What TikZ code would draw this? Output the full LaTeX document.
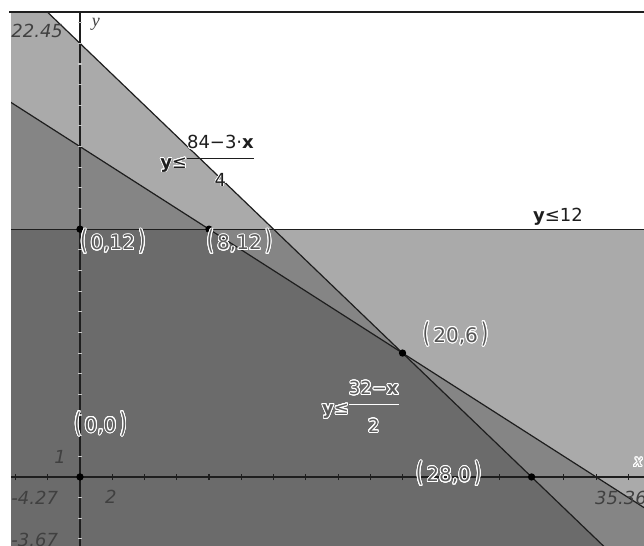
\documentclass[tikz,border=0pt]{standalone}
\usepackage{fontspec}
\setmainfont{DejaVu Sans}
\newfontfamily\axisname{Liberation Serif}
\usepackage{colortbl}
\usepackage{contour}
\contourlength{0.7pt}
\contournumber{24}
\usetikzlibrary{positioning}
\definecolor{oneshade}{HTML}{AAAAAA}
\definecolor{twoshade}{HTML}{858585}
\definecolor{threeshade}{HTML}{6B6B6B}
\definecolor{ink}{HTML}{1E1E1E}
\newcommand\cpt[1]{\scalebox{0.9}[1.35]{(}\,#1\,\scalebox{0.9}[1.35]{)}}
\newcommand\ineq[3]{\arrayrulecolor{#1}\contour{white}{\textbf{y}≤}\begin{tabular}{@{}c@{}}%
  \contour{white}{#2}\rule[-6.8pt]{0pt}{6.8pt}\\\hline
  \rule{0pt}{21pt}\contour{white}{#3}\end{tabular}}

\begin{document}
\begin{tikzpicture}[x=12.1pt,y=15.49pt,
    lbl/.style={font=\fontsize{13.5}{15}\selectfont,inner sep=0pt,text=ink},
    num/.style={font=\fontsize{13.5}{15}\selectfont\itshape,inner sep=0pt,text=ink!85},
    ptlbl/.style={font=\fontsize{15}{17}\selectfont,inner sep=0pt,text=threeshade!110},
    dot/.style={circle,fill=black,inner sep=0pt,minimum size=5.5pt},
    border/.style={draw=ink,line width=0.9pt}]
  \useasboundingbox (-4.96,-3.34) rectangle (34.97,23.10);
  \draw[ink,line width=0.8pt] (-4.4,22.52) -- (36,22.52);
  \begin{scope}
    \clip (-4.27,-3.67) rectangle (35.36,22.45);
    % shaded half-planes
    \fill[oneshade] (-5,24.75) -- (12,12) -- (36,12) -- (36,-4) -- (-5,-4) -- cycle;
    \fill[twoshade] (-5,18.5) -- (8,12) -- (12,12) -- (20,6) -- (36,-2)
      -- (36,-4) -- (-5,-4) -- cycle;
    \fill[threeshade] (-5,12) -- (8,12) -- (20,6) -- (28,0) -- (33.33,-4)
      -- (-5,-4) -- cycle;
    \draw[border] (-5,12) -- (36,12);
    \draw[border] (-5,24.75) -- (33.33,-4);
    \draw[border] (-5,18.5) -- (36,-2);
    % axes
    \draw[ink,line width=1.3pt] (-5,0) -- (36,0);
    \draw[ink,line width=1.3pt] (0,-4) -- (0,22.45);
    \foreach \t in {-4,-2,...,34}
      \draw[ink,line width=0.8pt] (\t,-0.15) -- (\t,0.15);
    \foreach \t in {-3,...,22}
      \draw[gray!45,line width=0.8pt] (-0.1,\t) -- (0.1,\t);
  \end{scope}
  \node[num,anchor=west] (ymax) at (-4.27,21.6) {22.45};
  \node[num,anchor=west] (xmin) at (-4.27,-1.02) {-4.27};
  \node[num,anchor=west] (ymin) at (-4.27,-3.05) {-3.67};
  \node[num,anchor=west] (xmax) at (31.93,-1.02) {35.36};
  \node[num] (yone) at (-1.24,0.97) {1};
  \node[num] (xtwo) at (1.92,-0.97) {2};
  \node[font=\fontsize{13.5}{15}\selectfont\axisname\itshape,text=ink!85,inner sep=0pt]
    (yname) at (0.99,21.9) {y};
  \node[font=\fontsize{13.5}{15}\selectfont\axisname\itshape,text=oneshade,inner sep=0pt,anchor=west]
    (xname) at (34.35,0.68) {\contour{white}{x}};
  % corner points
  \node[dot] (o) at (0,0) {};
  \node[dot] (a) at (0,12) {};
  \node[dot] (b) at (8,12) {};
  \node[dot] (c) at (20,6) {};
  \node[dot] (d) at (28,0) {};
  \node[ptlbl,anchor=north west] (la) at (0,12) {\contour{white}{\cpt{0,12}}};
  \node[ptlbl,anchor=north west] (lb) at (7.85,12) {\contour{white}{\cpt{8,12}}};
  \node[ptlbl,anchor=south west,text=ink!75] (lc) at (21.25,6.29) {\contour{white}{\cpt{20,6}}};
  \node[ptlbl,anchor=south west] (lo) at (-0.37,1.94) {\contour{white}{\cpt{0,0}}};
  \node[ptlbl,anchor=east] (ld) at (24.9,0.15) {\contour{white}{\cpt{28,0}}};
  % inequalities
  \node[lbl] (top) at (29.63,12.59) {\textbf{y}≤12};
  \node[lbl,anchor=west] (fone) at (4.96,15.18)
    {\contourlength{0.4pt}\ineq{ink}{84−3·\textbf{x}}{4}};
  \node[lbl,anchor=west,text=threeshade!110] (ftwo) at (15.0,3.27)
    {\ineq{white}{32−\textbf{x}}{2}};
\end{tikzpicture}
\end{document}
